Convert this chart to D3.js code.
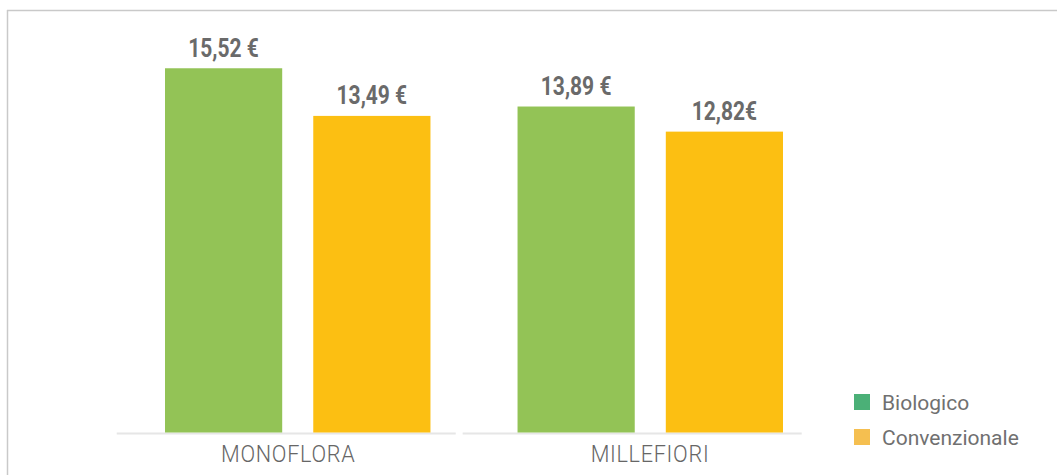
<!DOCTYPE html>
<html>
<head>
<meta charset="utf-8">
<script src="https://cdn.jsdelivr.net/npm/d3@7"></script>
<style>
  html, body { margin: 0; padding: 0; background: #fff; }
  svg { display: block; }
</style>
</head>
<body>
<svg id="chart" width="1057" height="475"></svg>
<script>
// ---- data ----
const categories = ["MONOFLORA", "MILLEFIORI"];
const seriesNames = ["Biologico", "Convenzionale"];
const biologico = [15.52, 13.89];
const convenzionale = [13.49, 12.82];
const labelsBiologico = ["15,52 €", "13,89 €"];
const labelsConvenzionale = ["13,49 €", "12,82€"];

// ---- style ----
const barColors = ["#93c356", "#fcbf12"];
const legendColors = ["#4bb077", "#f5bf50"];
const textGray = "#6a6a6a";

const svg = d3.select("#chart");
const W = 1057, H = 475;

// frame lines (top + left)
svg.append("line").attr("x1", 7).attr("x2", W).attr("y1", 10.5).attr("y2", 10.5)
  .attr("stroke", "#c9c9c9").attr("stroke-width", 1.5);
svg.append("line").attr("x1", 7.5).attr("x2", 7.5).attr("y1", 10).attr("y2", H)
  .attr("stroke", "#c9c9c9").attr("stroke-width", 1.5);

// scales
const y = d3.scaleLinear().domain([0, 16]).range([432.5, 57]);
const x0 = d3.scaleBand().domain(categories).range([165, 783]).paddingInner(0.247);
const x1 = d3.scaleBand().domain(seriesNames).range([0, x0.bandwidth()]).paddingInner(0.2095);
const xAxis = d3.scaleBand().domain(categories).range([116.7, 801.7]).paddingInner(0.02);
const xLabel = d3.scalePoint().domain(categories).range([288.3, 650]);

const rows = categories.map((c, i) => ({
  cat: c,
  vals: [
    { s: seriesNames[0], v: biologico[i], lab: labelsBiologico[i], col: barColors[0] },
    { s: seriesNames[1], v: convenzionale[i], lab: labelsConvenzionale[i], col: barColors[1] }
  ]
}));

// axis baseline segments
svg.append("g").selectAll("line").data(categories).join("line")
  .attr("x1", d => xAxis(d)).attr("x2", d => xAxis(d) + xAxis.bandwidth())
  .attr("y1", 433.5).attr("y2", 433.5)
  .attr("stroke", "#e6e6e6").attr("stroke-width", 2);

// bars
const groups = svg.append("g").selectAll("g").data(rows).join("g")
  .attr("transform", d => `translate(${x0(d.cat)},0)`);

groups.selectAll("rect").data(d => d.vals).join("rect")
  .attr("x", d => x1(d.s))
  .attr("width", x1.bandwidth())
  .attr("y", d => y(d.v))
  .attr("height", d => y(0) - y(d.v))
  .attr("fill", d => d.col);

// value labels
const vl = groups.selectAll("text").data(d => d.vals).join("text")
  .attr("x", d => x1(d.s) + x1.bandwidth() / 2)
  .attr("y", d => y(d.v) - 11.5)
  .attr("text-anchor", "middle")
  .attr("font-family", "Roboto, sans-serif")
  .attr("font-weight", 700)
  .attr("font-size", 25)
  .attr("fill", textGray)
  .text(d => d.lab);
vl.each(function() {
  const len = this.getComputedTextLength();
  d3.select(this).attr("textLength", len * 0.84).attr("lengthAdjust", "spacingAndGlyphs");
});

// category labels
const cl = svg.append("g").selectAll("text").data(categories).join("text")
  .attr("x", d => xLabel(d))
  .attr("y", 462)
  .attr("text-anchor", "middle")
  .attr("font-family", "Roboto, sans-serif")
  .attr("font-weight", 300)
  .attr("font-size", 24)
  .attr("letter-spacing", 0.8)
  .attr("fill", "#666666")
  .text(d => d);
cl.each(function() {
  const len = this.getComputedTextLength();
  d3.select(this).attr("textLength", len * 0.9).attr("lengthAdjust", "spacingAndGlyphs");
});

// legend
const leg = svg.append("g").selectAll("g").data(seriesNames).join("g")
  .attr("transform", (d, i) => `translate(854,${394 + i * 35})`);
leg.append("rect").attr("width", 16).attr("height", 16)
  .attr("fill", (d, i) => legendColors[i]);
leg.append("text").attr("x", 28).attr("y", 16)
  .attr("font-family", "Roboto, sans-serif")
  .attr("font-size", 21)
  .attr("fill", "#707070")
  .text(d => d);
</script>
</body>
</html>
